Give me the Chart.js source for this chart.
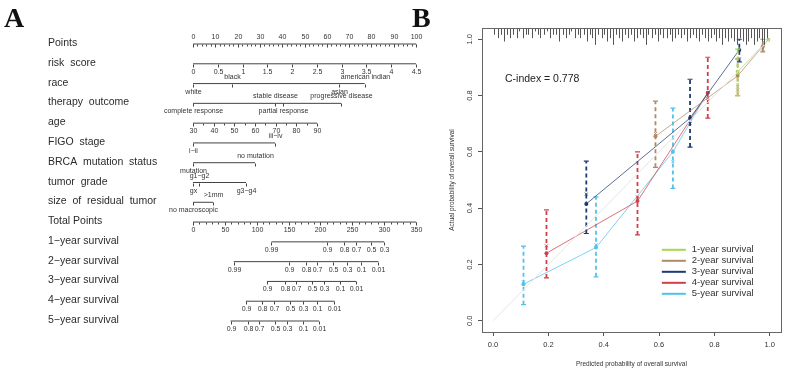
<!DOCTYPE html>
<html>
<head>
<meta charset="utf-8">
<script src="https://cdn.jsdelivr.net/npm/chart.js@4.4.0/dist/chart.umd.min.js"></script>
<style>
html, body { margin: 0; padding: 0; background: #fff; }
#wrap { position: relative; width: 786px; height: 372px; overflow: hidden; }
canvas { position: absolute; top: 0; }
#nomo { left: 0; width: 440px; height: 372px; }
#calib { left: 440px; width: 346px; height: 372px; }
</style>
</head>
<body>
<div id="wrap">
  <canvas id="nomo" width="440" height="372"></canvas>
  <canvas id="calib" width="346" height="372"></canvas>
</div>
<script>
const FONT = '"Liberation Sans", Arial, sans-serif';
Chart.defaults.font.family = FONT;

// ---------- panel A : nomogram ----------
const rowLabels = ['Points', 'risk  score', 'race', 'therapy  outcome', 'age', 'FIGO  stage',
  'BRCA  mutation  status', 'tumor  grade', 'size  of  residual  tumor', 'Total Points',
  '1\u2212year survival', '2\u2212year survival', '3\u2212year survival', '4\u2212year survival', '5\u2212year survival'];

const pointsTicks = [0, 10, 20, 30, 40, 50, 60, 70, 80, 90, 100];
const riskTicks = [0, 0.5, 1, 1.5, 2, 2.5, 3, 3.5, 4, 4.5];
const riskMax = 4.5;          // risk score 4.5 = 100 points
const ageTicks = [30, 40, 50, 60, 70, 80, 90];
const agePointsAt90 = 55.6;   // age 30 = 0 points

const raceLevels = ['white', 'black', 'asian', 'american indian'];
const racePoints = [0, 17.5, 65.5, 77];
const raceSide = ['below', 'above', 'below', 'above'];
const therapyLevels = ['complete response', 'stable disease', 'partial response', 'progressive disease'];
const therapyPoints = [0, 36.8, 40.4, 66.4];
const therapySide = ['below', 'above', 'below', 'above'];
const figoLevels = ['i\u2212ii', 'iii\u2212iv'];
const figoPoints = [0, 36.8];
const brcaLevels = ['mutation', 'no mutation'];
const brcaPoints = [0, 27.8];
const gradeLevels = ['gx', 'g1\u2212g2', 'g3\u2212g4'];
const gradePoints = [0, 2.7, 23.8];
const gradeSide = ['below', 'above', 'below'];
const residualLevels = ['no macroscopic', '>1mm'];
const residualPoints = [0, 9];

const totalTicks = [0, 50, 100, 150, 200, 250, 300, 350];

const survProb1 = ['0.99', '0.9', '0.8', '0.7', '0.5', '0.3'];
const survTotal1 = [123, 211, 237, 256, 280, 300];
const survProb2 = ['0.99', '0.9', '0.8', '0.7', '0.5', '0.3', '0.1', '0.01'];
const survTotal2 = [64, 151, 178, 195, 220, 241, 264, 291];
const survProb3 = ['0.9', '0.8', '0.7', '0.5', '0.3', '0.1', '0.01'];
const survTotal3 = [116, 145, 161, 186, 206, 230, 256];
const survTotal4 = [83, 109, 127, 152, 172, 195, 222];
const survTotal5 = [59, 86, 103, 128, 148, 172, 198];

function agePt(a) { return (a - 30) / 60 * agePointsAt90; }
function catRow(levels, pts, side) {
  return { scale: 'x', ticks: levels.map((l, i) => ({ v: pts[i], t: l, side: side[i] })) };
}
function survRow(labels, totals) {
  return { scale: 'xt', ticks: labels.map((l, i) => ({ v: totals[i], t: l, side: 'below' })) };
}

let pointsMinor = [];
for (let v = 0; v <= 100; v += 2) pointsMinor.push(v);
let totalMinor = [];
for (let v = 0; v <= 350; v += 10) totalMinor.push(v);

const rowSpecs = [
  { scale: 'x', minor: pointsMinor, ticks: pointsTicks.map(v => ({ v: v, t: String(v), side: 'above' })) },
  { scale: 'x', ticks: riskTicks.map(v => ({ v: v / riskMax * 100, t: String(v), side: 'below' })) },
  catRow(raceLevels, racePoints, raceSide),
  catRow(therapyLevels, therapyPoints, therapySide),
  { scale: 'x', minor: [35, 45, 55, 65, 75, 85].map(agePt), ticks: ageTicks.map(a => ({ v: agePt(a), t: String(a), side: 'below' })) },
  catRow(figoLevels, figoPoints, ['below', 'above']),
  catRow(brcaLevels, brcaPoints, ['below', 'above']),
  catRow(gradeLevels, gradePoints, gradeSide),
  catRow(residualLevels, residualPoints, ['below', 'above']),
  { scale: 'xt', minor: totalMinor, ticks: totalTicks.map(v => ({ v: v, t: String(v), side: 'below' })) },
  survRow(survProb1, survTotal1),
  survRow(survProb2, survTotal2),
  survRow(survProb3, survTotal3),
  survRow(survProb3, survTotal4),
  survRow(survProb3, survTotal5)
];

const nomoDatasets = rowSpecs.map((row, i) => {
  const vals = row.ticks.map(t => t.v);
  return {
    data: [{ x: Math.min(...vals), y: i }, { x: Math.max(...vals), y: i }],
    xAxisID: row.scale,
    borderColor: '#444',
    borderWidth: 1,
    pointRadius: 0,
    clip: false
  };
});

const nomoPlugin = {
  id: 'nomoPlugin',
  afterDatasetsDraw(chart) {
    const { ctx, scales } = chart;
    ctx.save();
    ctx.strokeStyle = '#444';
    ctx.fillStyle = '#333';
    ctx.lineWidth = 1;
    rowSpecs.forEach((row, i) => {
      const y = Math.round(scales.y.getPixelForValue(i)) + 0.5;
      const sc = scales[row.scale];
      ctx.font = '10.5px ' + FONT;
      ctx.textAlign = 'left';
      ctx.textBaseline = 'middle';
      ctx.fillStyle = '#2b2b2b';
      ctx.fillText(rowLabels[i], 48, y - 1);

      (row.minor || []).forEach(v => {
        const x = Math.round(sc.getPixelForValue(v)) + 0.5;
        ctx.beginPath(); ctx.moveTo(x, y); ctx.lineTo(x, y + 2); ctx.stroke();
      });
      ctx.font = '7px ' + FONT;
      ctx.textAlign = 'center';
      ctx.fillStyle = '#333';
      row.ticks.forEach(t => {
        const x = Math.round(sc.getPixelForValue(t.v)) + 0.5;
        ctx.beginPath(); ctx.moveTo(x, y); ctx.lineTo(x, y + 3); ctx.stroke();
        ctx.fillText(t.t, x, t.side === 'above' ? y - 7 : y + 7.5);
      });
    });
    ctx.font = 'bold 28px "Liberation Serif", "Times New Roman", serif';
    ctx.textAlign = 'left';
    ctx.textBaseline = 'alphabetic';
    ctx.fillStyle = '#111';
    ctx.fillText('A', 4, 27);
    ctx.fillText('B', 412, 27);
    ctx.restore();
  }
};

new Chart(document.getElementById('nomo'), {
  type: 'line',
  data: { datasets: nomoDatasets },
  options: {
    responsive: false,
    animation: false,
    devicePixelRatio: 1,
    layout: { padding: { left: 193, right: 24, top: 44, bottom: 51 } },
    scales: {
      x: { type: 'linear', min: 0, max: 100, display: false },
      xt: { type: 'linear', axis: 'x', min: 0, max: 350, display: false },
      y: { type: 'linear', min: 0, max: 14, reverse: true, display: false }
    },
    plugins: { legend: { display: false }, tooltip: { enabled: false } }
  },
  plugins: [nomoPlugin]
});

// ---------- panel B : calibration ----------
const axisTicks = [0, 0.2, 0.4, 0.6, 0.8, 1.0];
const cIndexText = 'C-index = 0.778';
const survNames = ['1-year survival', '2-year survival', '3-year survival', '4-year survival', '5-year survival'];
const survColors = ['#A8D64C', '#B08A62', '#1E3A70', '#D03E48', '#52C2EA'];

const predicted = [[0.884, 0.995], [0.587, 0.884, 0.975], [0.337, 0.712, 0.89], [0.193, 0.522, 0.776], [0.11, 0.372, 0.65, 0.776]];
const observed  = [[0.885, 0.998], [0.655, 0.87, 0.975], [0.415, 0.72, 0.962], [0.24, 0.425, 0.81], [0.13, 0.26, 0.60, 0.81]];
const lowerCI   = [[0.80, null], [0.545, 0.80, 0.955], [0.31, 0.617, 0.92], [0.152, 0.305, 0.72], [0.057, 0.156, 0.47, null]];
const upperCI   = [[0.965, null], [0.78, 0.93, 1.0], [0.567, 0.858, 1.0], [0.394, 0.60, 0.936], [0.265, 0.44, 0.755, null]];
const corrected = [[0.84, null], [0.665, 0.82, 0.965], [0.45, 0.70, 0.93], [0.266, 0.44, 0.79], [0.138, 0.27, 0.565, null]];

// distribution of predicted probabilities (rug at the top)
const rugX = [0.005, 0.018, 0.027, 0.04, 0.052, 0.061, 0.073, 0.085, 0.094, 0.108, 0.119, 0.128, 0.141, 0.152, 0.163,
  0.171, 0.184, 0.196, 0.207, 0.218, 0.229, 0.238, 0.251, 0.262, 0.274, 0.283, 0.295, 0.306, 0.315, 0.327, 0.338,
  0.349, 0.358, 0.369, 0.381, 0.392, 0.401, 0.413, 0.424, 0.435, 0.444, 0.456, 0.467, 0.476, 0.488, 0.497, 0.508,
  0.519, 0.53, 0.541, 0.552, 0.561, 0.573, 0.584, 0.595, 0.604, 0.616, 0.627, 0.638, 0.647, 0.659, 0.67, 0.681,
  0.69, 0.702, 0.713, 0.724, 0.733, 0.745, 0.756, 0.765, 0.776, 0.787, 0.798, 0.807, 0.818, 0.829, 0.84, 0.849,
  0.86, 0.871, 0.882, 0.891, 0.902, 0.913, 0.922, 0.933, 0.944, 0.953, 0.962, 0.971, 0.98, 0.99];
const rugLen = [2, 3, 2, 4, 2, 3, 2, 3, 1, 3, 2, 2, 3, 1, 2, 3, 2, 1, 3, 2, 2, 4, 2, 3, 2, 1, 3, 2, 3, 2,
  4, 2, 3, 5, 2, 3, 2, 4, 3, 5, 2, 3, 4, 2, 3, 2, 4, 3, 2, 3, 5, 2, 3, 2, 4, 2, 3, 3, 2, 4,
  3, 2, 3, 2, 4, 3, 2, 3, 4, 2, 3, 4, 3, 2, 4, 3, 5, 3, 4, 3, 4, 5, 3, 4, 5, 4, 3, 5, 4, 3, 4, 5, 3];

const calibDatasets = [{
  data: [{ x: 0, y: 0 }, { x: 1, y: 1 }],
  borderColor: '#e4e4e4', borderWidth: 1, pointRadius: 0
}];
survNames.forEach((name, s) => {
  calibDatasets.push({
    data: predicted[s].map((p, k) => ({ x: p, y: observed[s][k] })),
    borderColor: survColors[s] + 'bb', borderWidth: 1,
    pointRadius: 2, pointBackgroundColor: survColors[s], pointBorderWidth: 0
  });
  predicted[s].forEach((p, k) => {
    if (lowerCI[s][k] === null) return;
    calibDatasets.push({
      data: [{ x: p, y: lowerCI[s][k] }, { x: p, y: upperCI[s][k] }],
      borderColor: survColors[s], borderWidth: 1.8, borderDash: [4, 3],
      pointStyle: 'line', pointRadius: 2.5, pointBorderWidth: 1.2, pointBorderColor: survColors[s]
    });
  });
  calibDatasets.push({
    data: predicted[s].map((p, k) => ({ x: p, y: corrected[s][k] })).filter(d => d.y !== null),
    showLine: false, pointStyle: 'crossRot', pointRadius: 2,
    pointBorderColor: survColors[s], pointBorderWidth: 1
  });
});

const calibPlugin = {
  id: 'calibPlugin',
  afterDatasetsDraw(chart) {
    const { ctx, chartArea: a, scales: { x, y } } = chart;
    ctx.save();
    // box
    ctx.strokeStyle = '#666';
    ctx.lineWidth = 1;
    ctx.strokeRect(Math.round(a.left) + 0.5, Math.round(a.top) + 0.5, Math.round(a.width), Math.round(a.height));
    // rug
    ctx.strokeStyle = '#555';
    rugX.forEach((v, i) => {
      const px = Math.round(x.getPixelForValue(v)) + 0.5;
      ctx.beginPath();
      ctx.moveTo(px, a.top + 1);
      ctx.lineTo(px, y.getPixelForValue(1.04 - rugLen[i] * 0.012));
      ctx.stroke();
    });
    // y tick labels (vertical, R style)
    ctx.fillStyle = '#333';
    ctx.font = '7.5px ' + FONT;
    ctx.textAlign = 'center';
    ctx.textBaseline = 'middle';
    axisTicks.forEach(v => {
      ctx.save();
      ctx.translate(a.left - 12, y.getPixelForValue(v));
      ctx.rotate(-Math.PI / 2);
      ctx.fillText(v.toFixed(1), 0, 0);
      ctx.restore();
    });
    // c-index
    ctx.font = '10.5px ' + FONT;
    ctx.textAlign = 'left';
    ctx.fillStyle = '#222';
    ctx.fillText(cIndexText, x.getPixelForValue(0.043), y.getPixelForValue(0.858));
    // legend
    const lx = x.getPixelForValue(0.61);
    const ly = y.getPixelForValue(0.252);
    ctx.font = '9.5px ' + FONT;
    survNames.forEach((name, s) => {
      const yy = ly + s * 11;
      ctx.strokeStyle = survColors[s];
      ctx.lineWidth = 2;
      ctx.beginPath(); ctx.moveTo(lx, yy); ctx.lineTo(lx + 24, yy); ctx.stroke();
      ctx.fillStyle = '#333';
      ctx.fillText(name, lx + 30, yy);
    });
    ctx.restore();
  }
};

new Chart(document.getElementById('calib'), {
  type: 'line',
  data: { datasets: calibDatasets },
  options: {
    responsive: false,
    animation: false,
    devicePixelRatio: 1,
    layout: { padding: { left: 0, right: 3, top: 28, bottom: 0 } },
    scales: {
      x: {
        type: 'linear', min: -0.04, max: 1.04,
        afterBuildTicks: s => { s.ticks = axisTicks.map(v => ({ value: v })); },
        afterFit: s => { s.height = 40; },
        grid: { drawOnChartArea: false, drawTicks: true, tickLength: 4, color: '#555' },
        border: { display: false },
        ticks: { font: { size: 7.5 }, color: '#333', padding: 4, maxRotation: 0, callback: v => v.toFixed(1) },
        title: { display: true, text: 'Predicted probability of overall survival', font: { size: 6.5 }, color: '#333', padding: { top: 0, bottom: 4 } }
      },
      y: {
        type: 'linear', min: -0.04, max: 1.04,
        afterBuildTicks: s => { s.ticks = axisTicks.map(v => ({ value: v })); },
        afterFit: s => { s.width = 42; },
        grid: { drawOnChartArea: false, drawTicks: true, tickLength: 4, color: '#555' },
        border: { display: false },
        ticks: { display: false },
        title: { display: true, text: 'Actual probability of overall survival', font: { size: 6.5 }, color: '#333', padding: { top: 8, bottom: 0 } }
      }
    },
    plugins: { legend: { display: false }, tooltip: { enabled: false } }
  },
  plugins: [calibPlugin]
});
</script>
</body>
</html>
